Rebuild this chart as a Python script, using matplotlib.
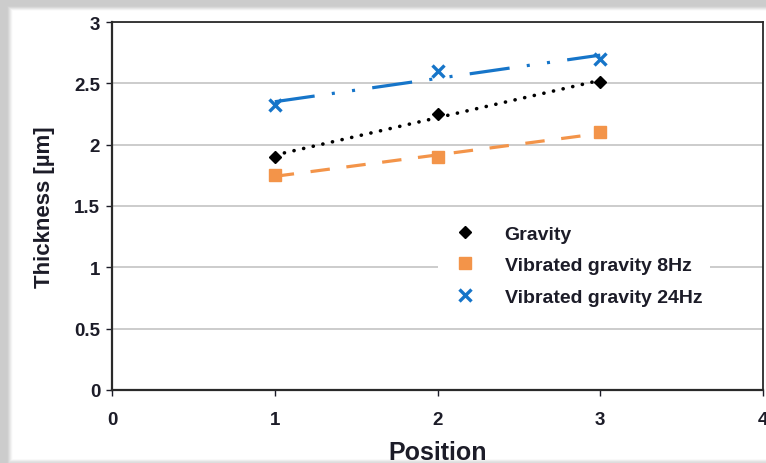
"""
Film thickness versus sample position for the three filling methods.

Markers are the measured thicknesses; the lines through them are linear
least-squares trendlines over positions 1-3, as in the original spreadsheet.
"""

import numpy as np
import matplotlib
matplotlib.use("Agg")
import matplotlib.pyplot as plt

plt.rcParams["font.family"] = ["Liberation Sans", "DejaVu Sans"]
plt.rcParams["font.weight"] = "bold"
plt.rcParams["axes.labelweight"] = "bold"
plt.rcParams["lines.scale_dashes"] = False

POSITIONS = [1, 2, 3]
GRAVITY = [1.90, 2.25, 2.51]
VIBRATED_8HZ = [1.75, 1.90, 2.10]
VIBRATED_24HZ = [2.32, 2.60, 2.70]

SERIES_LABELS = ["Gravity", "Vibrated gravity 8Hz", "Vibrated gravity 24Hz"]
X_TICKS = [0, 1, 2, 3, 4]
Y_TICKS = [0, 0.5, 1, 1.5, 2, 2.5, 3]

ORANGE = "#F39449"
BLUE = "#1675C9"
TEXT = "#1c1c28"

W, H = 766, 464


def frame_shadow(w, h):
    """Grey drop-shadow band along the top and left edge of the figure."""
    yy, xx = np.mgrid[0:h, 0:w]
    def ramp(d, a, b):
        t = np.clip((d - a) / (b - a), 0, 1)
        return t * t * (3 - 2 * t)
    shade = np.minimum(ramp(yy, 6, 12), ramp(xx, 6, 13))
    shade = np.minimum(shade, 0.35 + 0.65 * ramp(h - 1 - yy, 0, 4))
    v = 0.80 + 0.20 * shade
    img = np.dstack([v, v, v, np.ones_like(v)])
    return img


def trend(x, y):
    k, b = np.polyfit(x, y, 1)
    xs = np.array([min(x), max(x)])
    return xs, k * xs + b


fig = plt.figure(figsize=(W / 100, H / 100), dpi=100)
fig.figimage(frame_shadow(W, H), xo=0, yo=0, origin="upper", zorder=-5)

ax = fig.add_axes([112 / W, 1 - 391 / H, 651 / W, 368 / H])
ax.set_facecolor("white")

# trendlines
xs, ys = trend(POSITIONS, GRAVITY)
ax.plot(xs, ys, color="black", lw=2.6, dashes=(0.1, 7.0), dash_capstyle="round", zorder=3)
xs, ys = trend(POSITIONS, VIBRATED_8HZ)
ax.plot(xs, ys, color=ORANGE, lw=2.3, dashes=(14, 12), zorder=3)
xs, ys = trend(POSITIONS, VIBRATED_24HZ)
ax.plot(xs, ys, color=BLUE, lw=2.3, dashes=(29, 12.5, 2.2, 12.5, 2.2, 12.5), zorder=3)

# measured points
ax.plot(POSITIONS, GRAVITY, ls="none", marker="D", ms=6.5, color="black",
        label=SERIES_LABELS[0], zorder=4)
ax.plot(POSITIONS, VIBRATED_8HZ, ls="none", marker="s", ms=8.5, color=ORANGE,
        label=SERIES_LABELS[1], zorder=4)
ax.plot(POSITIONS, VIBRATED_24HZ, ls="none", marker="x", ms=8.5, mew=2.4, color=BLUE,
        label=SERIES_LABELS[2], zorder=4)

ax.set_xlim(0, 4)
ax.set_ylim(0, 3)
ax.set_xticks(X_TICKS)
ax.set_yticks(Y_TICKS)
ax.set_xticklabels([str(t) for t in X_TICKS])
ax.set_yticklabels([f"{t:g}" for t in Y_TICKS])
ax.yaxis.grid(True, color="#c4c4c4", lw=1.2)
ax.set_axisbelow(True)

for side in ["left", "bottom"]:
    ax.spines[side].set_linewidth(1.6)
    ax.spines[side].set_color("#2a2a2a")
for side in ["top", "right"]:
    ax.spines[side].set_linewidth(1.3)
    ax.spines[side].set_color("#2a2a2a")

ax.tick_params(axis="y", direction="out", length=4.5, width=1.0, pad=4,
               labelsize=13.5, colors=TEXT)
ax.tick_params(axis="x", direction="out", length=4, width=1.0, pad=11,
               labelsize=13.5, colors=TEXT)

ax.set_ylabel("Thickness [µm]", fontsize=16, color=TEXT, labelpad=14)
ax.set_xlabel("Position", fontsize=18, color=TEXT, labelpad=8.5)

leg = ax.legend(loc="upper left", bbox_to_anchor=(0.50, 0.469), borderaxespad=0,
                fontsize=14, frameon=True, framealpha=1, edgecolor="none",
                handlelength=2.0, handletextpad=1.05, labelspacing=0.71,
                borderpad=0.4, fancybox=False)
for t in leg.get_texts():
    t.set_color(TEXT)

fig.savefig("out.png", dpi=100)
